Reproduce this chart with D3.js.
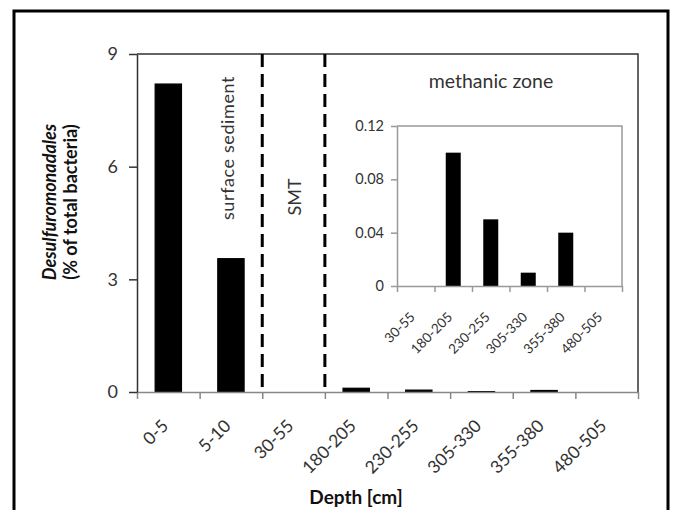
<!DOCTYPE html>
<html>
<head>
<meta charset="utf-8">
<script src="https://cdn.jsdelivr.net/npm/d3@7"></script>
<style>
  html, body { margin: 0; padding: 0; background: #fff; }
  svg { display: block; font-family: Lato, "Open Sans", sans-serif; }
</style>
</head>
<body>
<svg id="chart" width="673" height="510"></svg>
<script>
// depth classes (cm) and Desulfuromonadales share (% of total bacteria)
var depths = ['0-5', '5-10', '30-55', '180-205', '230-255', '305-330', '355-380', '480-505'];
var shares = [8.2, 3.55, 0, 0.1, 0.05, 0.01, 0.04, 0];
var yTicks = [0, 3, 6, 9];

// inset: methanic zone only
var insetDepths = ['30-55', '180-205', '230-255', '305-330', '355-380', '480-505'];
var insetShares = [0, 0.1, 0.05, 0.01, 0.04, 0];
var insetTicks = [0, 0.04, 0.08, 0.12];

// zone boundaries (index of category after which a dashed line is drawn)
var zoneBreaks = [2, 3];

var svg = d3.select('#chart');
var textCol = '#333';

// outer frame
svg.append('rect')
  .attr('x', 14).attr('y', 11)
  .attr('width', 654).attr('height', 520)
  .attr('fill', 'none').attr('stroke', '#000').attr('stroke-width', 3);

var pLeft = 137, pRight = 638, pTop = 54, pBottom = 392;

var x = d3.scaleBand().domain(depths).range([pLeft, pRight]).paddingInner(0.58).paddingOuter(0.29);
var xEdge = d3.scaleLinear().domain([0, depths.length]).range([pLeft, pRight]);
var y = d3.scaleLinear().domain([0, 9]).range([pBottom, pTop]);

// plot frame top/right
svg.append('path')
  .attr('d', 'M' + pLeft + ',' + pTop + 'H' + pRight + 'V' + pBottom)
  .attr('fill', 'none').attr('stroke', '#333').attr('stroke-width', 1.5);

// bars
svg.append('g').selectAll('rect')
  .data(depths)
  .join('rect')
  .attr('x', function (d) { return x(d); })
  .attr('width', x.bandwidth())
  .attr('y', function (d, i) { return y(shares[i]); })
  .attr('height', function (d, i) { return pBottom - y(shares[i]); })
  .attr('fill', '#000')
  .attr('stroke', function (d, i) { return shares[i] > 0 ? '#000' : 'none'; })
  .attr('stroke-width', 1.2);

// x axis (ticks between categories)
var gx = svg.append('g')
  .attr('transform', 'translate(0,' + pBottom + ')')
  .call(d3.axisBottom(xEdge).tickValues(d3.range(depths.length + 1)).tickFormat('').tickSize(7).tickSizeOuter(0));
gx.selectAll('path, line').attr('stroke', '#888').attr('stroke-width', 1.5);

svg.append('g').selectAll('text')
  .data(depths)
  .join('text')
  .attr('transform', function (d) {
    return 'translate(' + (x(d) + x.bandwidth() / 2 + 1) + ',427) rotate(-45)';
  })
  .attr('text-anchor', 'end')
  .attr('font-size', 17.5)
  .attr('fill', textCol)
  .text(function (d) { return d; });

// y axis
var gy = svg.append('g')
  .attr('transform', 'translate(' + pLeft + ',0)')
  .call(d3.axisLeft(y).tickValues(yTicks).tickSize(8).tickSizeOuter(0).tickPadding(11));
gy.select('.domain').attr('stroke', '#333').attr('stroke-width', 1.5);
gy.selectAll('line').attr('stroke', '#333').attr('stroke-width', 1.5);
gy.selectAll('text').attr('font-size', 18).attr('fill', textCol).attr('font-family', 'Lato');

// dashed zone separators
svg.append('g').selectAll('line')
  .data(zoneBreaks)
  .join('line')
  .attr('x1', function (d) { return xEdge(d); })
  .attr('x2', function (d) { return xEdge(d); })
  .attr('y1', pTop).attr('y2', pBottom)
  .attr('stroke', '#000').attr('stroke-width', 3)
  .attr('stroke-dasharray', '13,7');

// zone labels
svg.append('text')
  .attr('transform', 'translate(' + 234 + ',148) rotate(-90)')
  .attr('text-anchor', 'middle')
  .attr('font-size', 18).attr('letter-spacing', 0.6)
  .attr('fill', textCol)
  .text('surface sediment');

svg.append('text')
  .attr('transform', 'translate(' + 301 + ',197) rotate(-90)')
  .attr('text-anchor', 'middle')
  .attr('font-size', 18)
  .attr('fill', textCol)
  .text('SMT');

// axis titles
var yTitle = svg.append('text')
  .attr('transform', 'translate(56,202) rotate(-90)')
  .attr('text-anchor', 'middle')
  .attr('font-size', 18).attr('font-weight', 'bold').attr('fill', '#111');
yTitle.append('tspan').attr('x', 0).attr('font-style', 'italic').text('Desulfuromonadales');
yTitle.append('tspan').attr('x', 0).attr('dy', 21).text('(% of total bacteria)');

svg.append('text')
  .attr('x', 356).attr('y', 504)
  .attr('text-anchor', 'middle')
  .attr('font-size', 19).attr('font-weight', 'bold').attr('fill', '#111')
  .text('Depth [cm]');

// ---- inset ----
var iLeft = 397, iRight = 622, iTop = 126, iBottom = 286;
var ix = d3.scaleBand().domain(insetDepths).range([iLeft, iRight]).paddingInner(0.6).paddingOuter(0.3);
var ixEdge = d3.scaleLinear().domain([0, insetDepths.length]).range([iLeft, iRight]);
var iy = d3.scaleLinear().domain([0, 0.12]).range([iBottom, iTop]);

svg.append('path')
  .attr('d', 'M' + iLeft + ',' + iTop + 'H' + iRight + 'V' + iBottom)
  .attr('fill', 'none').attr('stroke', '#999').attr('stroke-width', 1.5);

svg.append('g').selectAll('rect')
  .data(insetDepths)
  .join('rect')
  .attr('x', function (d) { return ix(d); })
  .attr('width', ix.bandwidth())
  .attr('y', function (d, i) { return iy(insetShares[i]); })
  .attr('height', function (d, i) { return iBottom - iy(insetShares[i]); })
  .attr('fill', '#000');

var igx = svg.append('g')
  .attr('transform', 'translate(0,' + iBottom + ')')
  .call(d3.axisBottom(ixEdge).tickValues(d3.range(insetDepths.length + 1)).tickFormat('').tickSize(6).tickSizeOuter(0));
igx.selectAll('path, line').attr('stroke', '#999').attr('stroke-width', 1.5);

svg.append('g').selectAll('text')
  .data(insetDepths)
  .join('text')
  .attr('transform', function (d) {
    return 'translate(' + (ix(d) + ix.bandwidth() / 2) + ',318) rotate(-45)';
  })
  .attr('text-anchor', 'end')
  .attr('font-size', 13.5)
  .attr('fill', textCol)
  .text(function (d) { return d; });

var igy = svg.append('g')
  .attr('transform', 'translate(' + iLeft + ',0)')
  .call(d3.axisLeft(iy).tickValues(insetTicks).tickFormat(function (d) { return d === 0 ? '0' : d3.format('.2f')(d); }).tickSize(6).tickSizeOuter(0).tickPadding(7));
igy.selectAll('path, line').attr('stroke', '#999').attr('stroke-width', 1.5);
igy.selectAll('text').attr('font-size', 14.5).attr('fill', textCol).attr('font-family', 'Lato');

svg.append('text')
  .attr('x', 491).attr('y', 88)
  .attr('text-anchor', 'middle')
  .attr('font-size', 19.5)
  .attr('fill', textCol)
  .text('methanic zone');
</script>
</body>
</html>
